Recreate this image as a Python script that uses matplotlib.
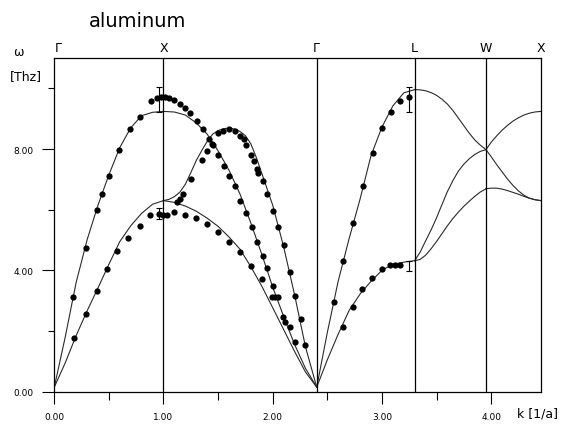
import numpy as np
import matplotlib
matplotlib.use("Agg")
import matplotlib.pyplot as plt
import matplotlib.transforms as mtransforms

# symmetry points along k path (Gamma-X-Gamma-L-W-X)
sym_k = [0.0, 1.0, 2.403, 3.30, 3.953, 4.454]
sym_labels = ["Γ", "X", "Γ", "L", "W", "X"]

# --- theory curves ---
gx_k = [0.0, 0.1, 0.2, 0.3, 0.4, 0.5, 0.6, 0.7, 0.8, 0.9, 1.0]
gx_long = [0.15, 1.8, 3.6, 5.0, 6.15, 7.15, 8.05, 8.7, 9.1, 9.21, 9.24]
gx_trans = [0.15, 0.95, 1.85, 2.66, 3.42, 4.2, 4.95, 5.47, 5.88, 6.18, 6.30]

xg_k_a = [1.0, 1.1, 1.2, 1.3, 1.4, 1.5, 1.6, 1.7, 1.8, 1.9, 2.0, 2.1, 2.2, 2.3, 2.403]
xg_a = [9.24, 9.22, 9.12, 8.86, 8.49, 7.94, 7.30, 6.52, 5.56, 4.53, 3.45, 2.48, 1.56, 0.77, 0.15]

xg_k_b = [1.0, 1.05, 1.1, 1.15, 1.2, 1.25, 1.3, 1.35, 1.4, 1.45, 1.5, 1.55, 1.6, 1.65, 1.7,
          1.75, 1.8, 1.85, 1.9, 2.0, 2.1, 2.2, 2.3, 2.403]
xg_b = [6.30, 6.34, 6.43, 6.58, 6.84, 7.22, 7.62, 7.95, 8.25, 8.49, 8.61, 8.67, 8.69, 8.66, 8.58,
        8.44, 8.17, 7.72, 7.2, 6.15, 4.78, 3.2, 1.48, 0.15]

xg_k_c = [1.0, 1.1, 1.2, 1.3, 1.4, 1.5, 1.6, 1.7, 1.8, 1.9, 2.0, 2.1, 2.2, 2.3, 2.403]
xg_c = [6.30, 6.24, 6.12, 5.95, 5.72, 5.45, 5.1, 4.7, 4.12, 3.48, 2.77, 2.05, 1.33, 0.65, 0.15]

gl_k = [2.403, 2.5, 2.6, 2.7, 2.8, 2.9, 3.0, 3.1, 3.2, 3.3]
gl_long = [0.15, 1.95, 3.65, 5.05, 6.35, 7.78, 8.72, 9.42, 9.85, 9.96]
gl_trans = [0.15, 1.05, 1.9, 2.68, 3.22, 3.64, 4.0, 4.2, 4.27, 4.32]

lw_k = [3.3, 3.35, 3.4, 3.45, 3.5, 3.55, 3.6, 3.65, 3.7, 3.75, 3.8, 3.85, 3.9, 3.953]
lw_top = [9.96, 9.95, 9.92, 9.86, 9.77, 9.64, 9.48, 9.27, 9.02, 8.77, 8.52, 8.3, 8.13, 7.98]
lw_mid = [4.32, 4.6, 4.97, 5.33, 5.73, 6.17, 6.6, 6.96, 7.27, 7.5, 7.68, 7.82, 7.92, 7.98]
lw_low = [4.32, 4.36, 4.5, 4.71, 4.95, 5.21, 5.47, 5.71, 5.92, 6.11, 6.28, 6.44, 6.58, 6.69]

wx_k = [3.953, 4.0, 4.05, 4.1, 4.15, 4.2, 4.25, 4.3, 4.35, 4.4, 4.454]
wx_up = [7.98, 8.22, 8.43, 8.62, 8.78, 8.92, 9.03, 9.12, 9.18, 9.22, 9.24]
wx_down = [7.98, 7.75, 7.49, 7.25, 7.01, 6.8, 6.62, 6.48, 6.38, 6.33, 6.30]
wx_flat = [6.69, 6.71, 6.71, 6.68, 6.63, 6.57, 6.51, 6.44, 6.38, 6.33, 6.30]

# --- measured points ---
meas_k = [0.174, 0.287, 0.388, 0.44, 0.50, 0.593, 0.693, 0.785, 0.883, 0.94, 0.974, 1.014,
          1.053, 1.096, 1.151, 1.197, 1.243, 1.304, 1.365, 1.42, 1.456, 1.502, 1.554, 1.603,
          1.655, 1.70, 1.753, 1.808, 1.853, 1.908, 1.95, 2.005,
          0.18, 0.287, 0.388, 0.486, 0.571, 0.678, 0.785, 0.876, 0.962, 0.993, 1.03, 1.099,
          1.197, 1.30, 1.40, 1.50, 1.60, 1.70, 1.80, 1.90,
          1.99, 2.02, 2.05, 2.097, 2.113, 2.158, 2.204,
          1.126, 1.151, 1.181, 1.249, 1.35, 1.401, 1.441, 1.502, 1.548, 1.60, 1.655, 1.70,
          1.737, 1.756, 1.799, 1.829, 1.853, 1.868, 1.908, 1.95, 2.005, 2.051, 2.103, 2.158,
          2.204, 2.256, 2.298,
          2.564, 2.646, 2.738, 2.83, 2.916, 2.998, 3.083, 3.166, 3.245,
          2.641, 2.738, 2.82, 2.912, 3.004, 3.074, 3.12, 3.166]
meas_w = [3.12, 4.74, 6.0, 6.52, 7.10, 7.98, 8.65, 9.06, 9.58, 9.69, 9.72, 9.72,
          9.69, 9.61, 9.50, 9.35, 9.20, 8.91, 8.67, 8.34, 8.12, 7.81, 7.44, 7.11,
          6.78, 6.30, 5.90, 5.43, 4.93, 4.49, 4.08, 3.50,
          1.76, 2.56, 3.31, 4.05, 4.63, 5.06, 5.46, 5.83, 5.86, 5.81, 5.83, 5.93,
          5.83, 5.72, 5.53, 5.26, 4.95, 4.62, 4.16, 3.70,
          3.12, 3.12, 3.12, 2.45, 2.29, 2.13, 1.63,
          6.25, 6.34, 6.52, 7.02, 7.65, 7.95, 8.17, 8.54, 8.61, 8.65, 8.58, 8.43,
          8.32, 8.12, 7.79, 7.62, 7.35, 7.22, 6.93, 6.52, 5.97, 5.43, 4.82, 3.94,
          3.15, 2.40, 1.54,
          2.95, 4.32, 5.56, 6.77, 7.88, 8.69, 9.22, 9.57, 9.72,
          2.13, 2.79, 3.37, 3.74, 4.03, 4.19, 4.19, 4.19]

err_k = [0.955, 0.962, 3.245, 3.245]
err_w = [9.63, 5.88, 9.63, 4.15]
err_size = [0.40, 0.18, 0.42, 0.17]

fig = plt.figure(figsize=(5.62, 4.27), dpi=100)
ax = fig.add_axes([0.0966, 0.0803, 0.8655, 0.7815])

line_kw = dict(color="#2a2a2a", lw=0.8)
ax.plot(gx_k, gx_long, **line_kw)
ax.plot(gx_k, gx_trans, **line_kw)
ax.plot(xg_k_a, xg_a, **line_kw)
ax.plot(xg_k_b, xg_b, **line_kw)
ax.plot(xg_k_c, xg_c, **line_kw)
ax.plot(gl_k, gl_long, **line_kw)
ax.plot(gl_k, gl_trans, **line_kw)
ax.plot(lw_k, lw_top, **line_kw)
ax.plot(lw_k, lw_mid, **line_kw)
ax.plot(lw_k, lw_low, **line_kw)
ax.plot(wx_k, wx_up, **line_kw)
ax.plot(wx_k, wx_down, **line_kw)
ax.plot(wx_k, wx_flat, **line_kw)

ax.plot(meas_k, meas_w, "o", color="black", ms=4.5, mew=0)
ax.errorbar(err_k, err_w, yerr=err_size, fmt="none", ecolor="black",
            elinewidth=0.8, capsize=2.2, capthick=0.8)

for k in sym_k[1:-1]:
    ax.axvline(k, color="black", lw=0.9)

trans = mtransforms.blended_transform_factory(ax.transData, ax.transAxes)
for i, (k, lab) in enumerate(zip(sym_k, sym_labels)):
    ax.text(k, 1.02, lab, transform=trans, fontsize=9,
            ha="left" if i == 0 else "center", va="baseline")

ax.set_xlim(0, sym_k[-1])
ax.set_ylim(0, 11.0)
ax.set_xticks([0, 1, 2, 3, 4])
ax.set_xticks([0.5, 1.5, 2.5, 3.5], minor=True)
ax.set_yticks([0, 4, 8])
ax.set_yticks([2, 6, 10], minor=True)
ax.set_xticklabels(["%.2f" % v for v in [0, 1, 2, 3, 4]])
ax.set_yticklabels(["%.2f" % v for v in [0, 4, 8]])
ax.tick_params(which="major", direction="out", length=8.8, width=0.8,
               labelsize=6.5, pad=6)
ax.tick_params(axis="x", which="minor", direction="out", length=6, width=0.8)
ax.tick_params(axis="y", which="minor", direction="out", length=4.4, width=0.8)
for s in ax.spines.values():
    s.set_linewidth(0.9)

fig.text(0.2447, 0.9375, "aluminum", fontsize=14, ha="center", va="baseline")
fig.text(0.032, 0.876, "ω", fontsize=9, ha="center", va="center")
fig.text(0.046, 0.820, "[Thz]", fontsize=9, ha="center", va="center")
fig.text(0.956, 0.0304, "k [1/a]", fontsize=9, ha="center", va="center")

fig.savefig("out.png", dpi=100)
